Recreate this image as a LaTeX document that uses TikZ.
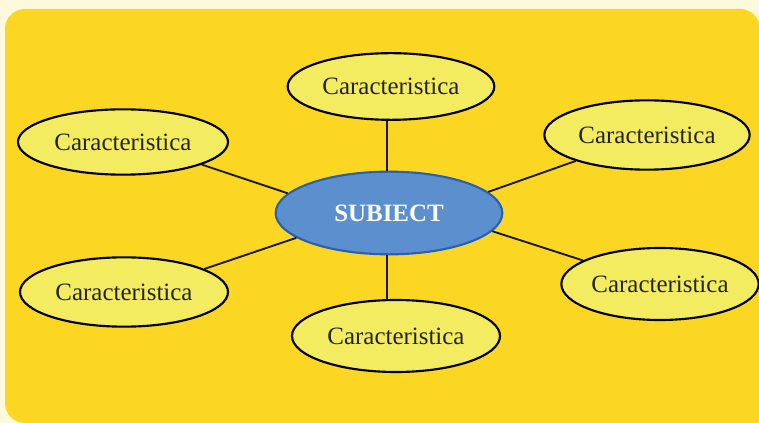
\documentclass[tikz,border=0pt]{standalone}
\usepackage{fontspec}
\setmainfont{Liberation Serif}
\usetikzlibrary{shapes.geometric}
\definecolor{cream}{RGB}{255,249,220}
\definecolor{bgyellow}{RGB}{251,214,34}
\definecolor{ellfill}{RGB}{244,236,96}
\definecolor{subjfill}{RGB}{92,143,206}
\definecolor{subjdraw}{RGB}{40,96,180}
\definecolor{txt}{RGB}{34,34,34}
\tikzset{
  feat/.style={ellipse, draw=black, line width=1.6pt, fill=ellfill, inner sep=0pt,
    text=txt, font=\fontsize{18.7}{22}\selectfont},
  subj/.style={ellipse, draw=subjdraw, line width=1.6pt, fill=subjfill, inner sep=0pt,
    text=white, font=\fontsize{18.7}{22}\selectfont\bfseries},
  conn/.style={draw=black!90, line width=1.4pt}
}
\begin{document}
\begin{tikzpicture}[x=0.75pt,y=-0.75pt]
\useasboundingbox (0,0) rectangle (759,423);
\clip (0,0) rectangle (759,423);
\fill[cream] (0,0) rectangle (759,423);
\fill[bgyellow, rounded corners=15pt] (5,9) rectangle (760,423);
\fill[bgyellow] (400,200) rectangle (760,424);
\node[subj, minimum width=170pt, minimum height=62pt] (s) at (389,213) {SUBIECT};
\node[feat, minimum width=157.5pt, minimum height=49pt] (tl) at (123,142) {Caracteristica};
\node[feat, minimum width=155pt, minimum height=50pt] (tc) at (391,86.5) {Caracteristica};
\node[feat, minimum width=154pt, minimum height=52pt] (tr) at (647,135) {Caracteristica};
\node[feat, minimum width=156pt, minimum height=52pt] (bl) at (124,292) {Caracteristica};
\node[feat, minimum width=156pt, minimum height=54pt] (bc) at (396,336) {Caracteristica};
\node[feat, minimum width=148pt, minimum height=54pt] (br) at (660,284) {Caracteristica};
\path[conn] (s.169) -- (tl.-16);
\path[conn] (s.195) -- (bl.16);
\path[conn] (s.12) -- (tr.200);
\path[conn] (s.-10) -- (br.163);
\path[conn] ([xshift=-1.5pt]s.north) -- ([xshift=-1.5pt]s.north |- tc.south);
\path[conn] ([xshift=-1.5pt]s.south) -- ([xshift=-1.5pt]s.south |- bc.north);
\end{tikzpicture}
\end{document}
